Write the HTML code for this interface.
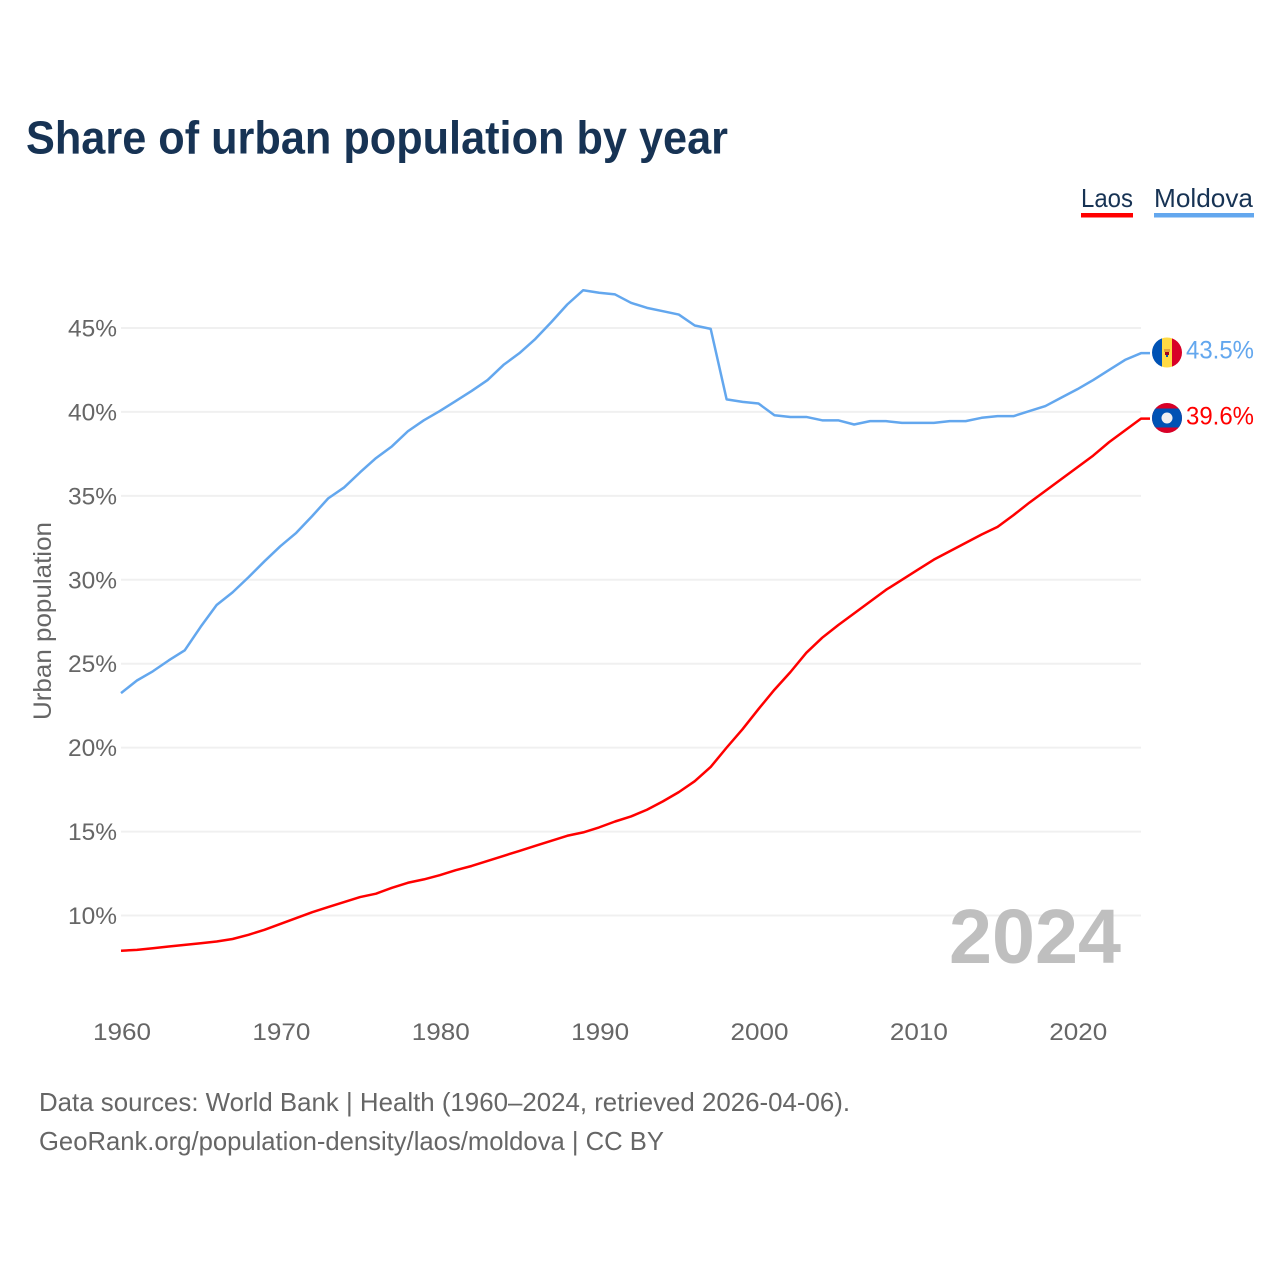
<!DOCTYPE html>
<html lang="en">
<head>
<meta charset="utf-8">
<title>Share of urban population by year</title>
<style>
  html, body { margin: 0; padding: 0; background: #fff; }
  #chart { display: block; width: 1280px; height: 1280px; font-family: "Liberation Sans", sans-serif; }
</style>
</head>
<body>
<svg id="chart" xmlns="http://www.w3.org/2000/svg" width="1280" height="1280" viewBox="0 0 1280 1280">
  <defs>
    <clipPath id="flag-clip-moldova"><circle cx="1167" cy="352.5" r="15"/></clipPath>
    <clipPath id="flag-clip-laos"><circle cx="1167" cy="418" r="15"/></clipPath>
  </defs>
  <rect width="1280" height="1280" fill="#ffffff"/>
  <text x="26" y="153.500" font-size="46" font-weight="700" fill="#173354" textLength="702" lengthAdjust="spacingAndGlyphs">Share of urban population by year</text>

  <g>
    <text x="1081" y="207" font-size="26" fill="#173354" textLength="52" lengthAdjust="spacingAndGlyphs">Laos</text>
    <rect x="1081" y="213" width="52" height="4.500" fill="#ff0000"/>
  </g>
  <g>
    <text x="1154" y="207" font-size="26" fill="#173354" textLength="99" lengthAdjust="spacingAndGlyphs">Moldova</text>
    <rect x="1154" y="213" width="100" height="4.500" fill="#63a7ee"/>
  </g>

  <g id="grid"></g>
  <g id="yticks"></g>
  <g id="xticks"></g>

  <text transform="translate(51 720) rotate(-90)" x="0" y="0" font-size="25" fill="#666666" textLength="198" lengthAdjust="spacingAndGlyphs">Urban population</text>

  <text x="949" y="963" font-size="77" font-weight="700" fill="#bfbfbf" textLength="172" lengthAdjust="spacingAndGlyphs">2024</text>

  <g id="series"></g>

  <g clip-path="url(#flag-clip-moldova)">
    <rect x="1152" y="337" width="10" height="31" fill="#0052b4"/>
    <rect x="1162" y="337" width="10" height="31" fill="#ffda44"/>
    <rect x="1172" y="337" width="10" height="31" fill="#d80027"/>
    <rect x="1164" y="349" width="6" height="3" fill="#e5a03a"/>
    <rect x="1165" y="352" width="4" height="3" fill="#a2001d"/>
    <rect x="1166" y="355" width="2" height="2" fill="#0052b4"/>
  </g>
  <g clip-path="url(#flag-clip-laos)">
    <rect x="1152" y="403" width="30" height="30" fill="#d80027"/>
    <rect x="1152" y="408.500" width="30" height="19" fill="#0052b4"/>
    <circle cx="1167" cy="418" r="5.500" fill="#f0f0f0"/>
  </g>

  <text x="1186" y="358.500" font-size="25" fill="#63a7ee" textLength="68" lengthAdjust="spacingAndGlyphs">43.5%</text>
  <text x="1186" y="424.500" font-size="25" fill="#ff0000" textLength="68" lengthAdjust="spacingAndGlyphs">39.6%</text>

  <text x="39" y="1111" font-size="26" fill="#666666" textLength="811" lengthAdjust="spacingAndGlyphs">Data sources: World Bank | Health (1960–2024, retrieved 2026-04-06).</text>
  <text x="39" y="1150" font-size="26" fill="#666666" textLength="625" lengthAdjust="spacingAndGlyphs">GeoRank.org/population-density/laos/moldova | CC BY</text>
</svg>
<script>
const years = [1960,1961,1962,1963,1964,1965,1966,1967,1968,1969,1970,1971,1972,1973,1974,1975,1976,1977,1978,1979,1980,1981,1982,1983,1984,1985,1986,1987,1988,1989,1990,1991,1992,1993,1994,1995,1996,1997,1998,1999,2000,2001,2002,2003,2004,2005,2006,2007,2008,2009,2010,2011,2012,2013,2014,2015,2016,2017,2018,2019,2020,2021,2022,2023,2024];
const moldovaValues = [23.25,24.0,24.55,25.2,25.8,27.2,28.5,29.25,30.15,31.1,32.0,32.8,33.8,34.85,35.5,36.4,37.25,37.95,38.85,39.5,40.05,40.65,41.25,41.9,42.8,43.5,44.35,45.35,46.4,47.25,47.1,47.0,46.5,46.2,46.0,45.8,45.15,44.95,40.75,40.6,40.5,39.8,39.7,39.7,39.5,39.5,39.25,39.45,39.45,39.35,39.35,39.35,39.45,39.45,39.65,39.75,39.75,40.05,40.35,40.85,41.35,41.9,42.5,43.1,43.5];
const laosValues = [7.9,7.95,8.05,8.15,8.25,8.35,8.45,8.6,8.85,9.15,9.5,9.85,10.2,10.5,10.8,11.1,11.3,11.65,11.95,12.15,12.4,12.7,12.95,13.25,13.55,13.85,14.15,14.45,14.75,14.95,15.25,15.6,15.9,16.3,16.8,17.35,18.0,18.85,20.0,21.1,22.3,23.45,24.5,25.65,26.55,27.3,28.0,28.7,29.4,30.0,30.6,31.2,31.7,32.2,32.7,33.15,33.85,34.6,35.3,36.0,36.7,37.4,38.2,38.9,39.6];
const yTickValues = [10,15,20,25,30,35,40,45];
const xTickValues = [1960,1970,1980,1990,2000,2010,2020];

const SVG_NS = 'http://www.w3.org/2000/svg';
const xScale = function (year) { return 121 + (year - 1960) * (1141 - 121) / (2024 - 1960); };
const yScale = function (value) { return 915.5 - (value - 10) * (915.5 - 328) / (45 - 10); };

const make = function (tag, attrs, parent) {
  const el = document.createElementNS(SVG_NS, tag);
  Object.keys(attrs).forEach(function (k) { el.setAttribute(k, attrs[k]); });
  parent.appendChild(el);
  return el;
};

const gridGroup = document.getElementById('grid');
const yGroup = document.getElementById('yticks');
const xGroup = document.getElementById('xticks');
const seriesGroup = document.getElementById('series');

yTickValues.forEach(function (v) {
  const line = make('line', { x1: 121, x2: 1141, y1: yScale(v), y2: yScale(v), stroke: '#f0f0f0', 'stroke-width': 2 }, gridGroup);
  
  
  const label = make('text', { x: 68, y: yScale(v) + 8.5, 'font-size': 24, fill: '#666666', textLength: 49, lengthAdjust: 'spacingAndGlyphs' }, yGroup);
  label.textContent = v + '%';
  
  
});

xTickValues.forEach(function (yr) {
  const label = make('text', { x: xScale(yr) - 28, y: 1040, 'font-size': 24, fill: '#666666', textLength: 58, lengthAdjust: 'spacingAndGlyphs' }, xGroup);
  label.textContent = String(yr);
  
  
});

const drawSeries = function (values, color, name) {
  const pts = values.map(function (v, i) { return xScale(years[i]).toFixed(2) + ',' + yScale(v).toFixed(2); });
  pts.push('1150,' + yScale(values[values.length - 1]).toFixed(2));
  const line = make('polyline', { points: pts.join(' '), fill: 'none', stroke: color, 'stroke-width': 2.5, 'stroke-linejoin': 'round' }, seriesGroup);
  
  
};
drawSeries(moldovaValues, '#63a7ee', 'line-moldova');
drawSeries(laosValues, '#ff0000', 'line-laos');
</script>
</body>
</html>
